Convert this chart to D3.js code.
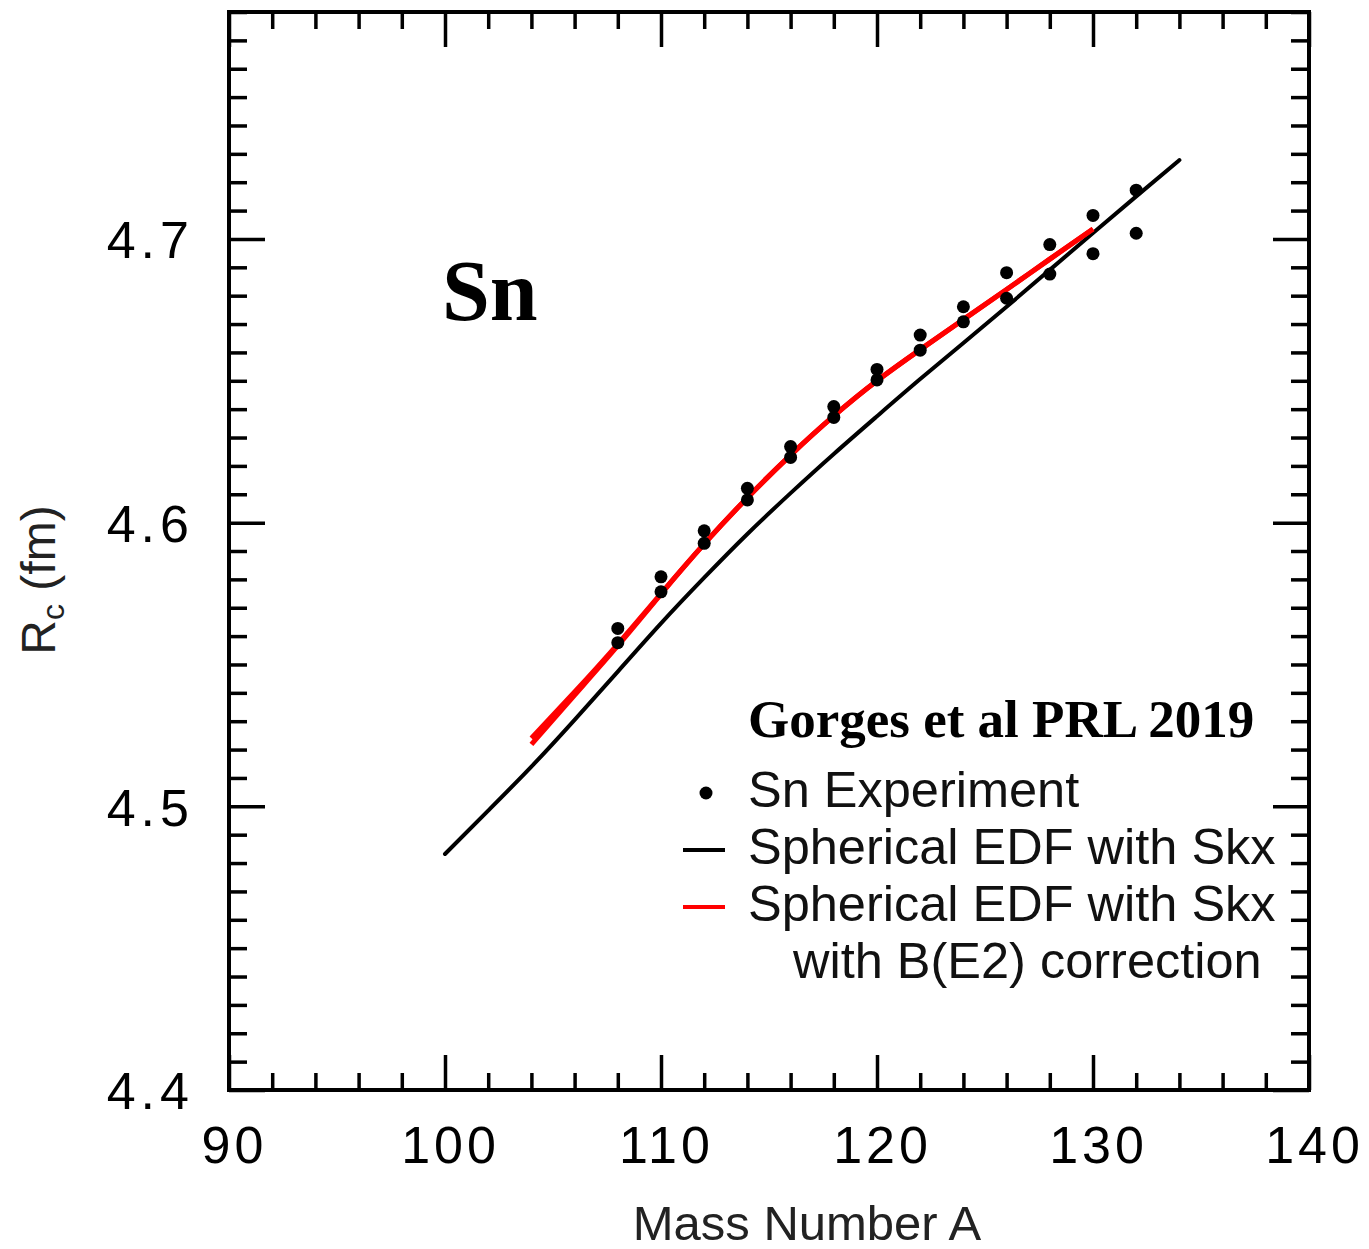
<!DOCTYPE html>
<html>
<head>
<meta charset="utf-8">
<script src="https://cdn.jsdelivr.net/npm/d3@7"></script>
<style>
  html, body { margin: 0; padding: 0; background: #fff; }
  svg { display: block; }
</style>
</head>
<body>
<svg id="chart" width="1369" height="1249"></svg>
<script>
// ---- Data ----
const xTickValues = [90, 100, 110, 120, 130, 140];
const yTickValues = [4.4, 4.5, 4.6, 4.7];

// Sn experiment: two measured values per mass number
const expMass  = [108, 110, 112, 114, 116, 118, 120, 122, 124, 126, 128, 130, 132];
const expUpper = [4.5627, 4.5809, 4.5971, 4.6121, 4.6268, 4.6409, 4.6540, 4.6661, 4.6761, 4.6881, 4.6980, 4.7083, 4.7172];
const expLower = [4.5577, 4.5756, 4.5927, 4.6080, 4.6230, 4.6371, 4.6503, 4.6608, 4.6708, 4.6791, 4.6876, 4.6948, 4.7020];

// Spherical EDF with Skx (black)
const skxMass = [100, 102, 104, 106, 108, 110, 112, 114, 116, 118, 120, 122, 124, 126, 128, 130, 132, 134];
const skxR    = [4.4832, 4.4985, 4.5140, 4.5305, 4.5475, 4.5645, 4.5806, 4.5960, 4.6104, 4.6242, 4.6375, 4.6506, 4.6633, 4.6761, 4.6891, 4.7021, 4.7150, 4.7278];

// Spherical EDF with Skx with B(E2) correction (red, two nearly overlapping strands)
const be2Mass = [104, 106, 108, 110, 112, 114, 116, 118, 120, 122, 124, 126, 128, 130];
const be2R_a  = [4.5240, 4.5403, 4.5572, 4.5750, 4.5925, 4.6088, 4.6238, 4.6376, 4.6500, 4.6610, 4.6716, 4.6822, 4.6929, 4.7035];
const be2R_b  = [4.5218, 4.5392, 4.5566, 4.5748, 4.5925, 4.6088, 4.6238, 4.6376, 4.6500, 4.6610, 4.6716, 4.6822, 4.6929, 4.7035];

const labels = {
  panel: "Sn",
  ref: "Gorges et al PRL 2019",
  exp: "Sn Experiment",
  skx: "Spherical EDF with Skx",
  be2a: "Spherical EDF with Skx",
  be2b: "with B(E2) correction",
  xTitle: "Mass Number A"
};

// ---- Drawing ----
const svg = d3.select("#chart");
const L = 229, R = 1309, T = 12, B = 1090;
const x = d3.scaleLinear().domain([90, 140]).range([L, R]);
const y = d3.scaleLinear().domain([4.4, 4.78]).range([B, T]);

const sans = "'Liberation Sans', Arial, Helvetica, sans-serif";
const serif = "'Liberation Serif', 'Times New Roman', serif";

const xMinor = d3.range(90, 140.001, 2).filter(v => !xTickValues.includes(v));
const yMinor = d3.range(0, 39).map(i => +(4.4 + i * 0.01).toFixed(2)).filter(v => !yTickValues.some(t => Math.abs(t - v) < 1e-6));

function tickAxis(axisFn, scale, vals, len, transform) {
  const g = svg.append("g").attr("transform", transform)
    .call(axisFn(scale).tickValues(vals).tickSize(len).tickFormat(""));
  g.select(".domain").remove();
  g.selectAll(".tick line").attr("stroke", "#000").attr("stroke-width", 3.5);
  return g;
}
tickAxis(d3.axisBottom, x, xTickValues, -35, `translate(0,${B})`);
tickAxis(d3.axisBottom, x, xMinor, -17, `translate(0,${B})`);
tickAxis(d3.axisTop, x, xTickValues, -35, `translate(0,${T})`);
tickAxis(d3.axisTop, x, xMinor, -17, `translate(0,${T})`);
tickAxis(d3.axisLeft, y, yTickValues, -36, `translate(${L},0)`);
tickAxis(d3.axisLeft, y, yMinor, -18, `translate(${L},0)`);
tickAxis(d3.axisRight, y, yTickValues, -36, `translate(${R},0)`);
tickAxis(d3.axisRight, y, yMinor, -18, `translate(${R},0)`);

// frame
svg.append("rect").attr("x", L).attr("y", T).attr("width", R - L).attr("height", B - T)
  .attr("fill", "none").attr("stroke", "#000").attr("stroke-width", 4);

// tick labels
const xLab = svg.append("g").attr("transform", `translate(0,${B})`)
  .call(d3.axisBottom(x).tickValues(xTickValues).tickSize(0).tickPadding(0).tickFormat(d3.format("d")));
xLab.select(".domain").remove();
xLab.selectAll("text").attr("font-family", sans).attr("font-size", 52).attr("fill", "#000")
  .attr("letter-spacing", 4).attr("dy", null).attr("y", 73).attr("dx", 5);

const yLab = svg.append("g").attr("transform", `translate(${L},0)`)
  .call(d3.axisLeft(y).tickValues(yTickValues).tickSize(0).tickPadding(0).tickFormat(d3.format(".1f")));
yLab.select(".domain").remove();
yLab.selectAll("text").attr("font-family", sans).attr("font-size", 52).attr("fill", "#000")
  .attr("letter-spacing", 5).attr("x", -35).attr("dy", "0.36em");

// axis titles
svg.append("text").attr("x", 807).attr("y", 1240).attr("text-anchor", "middle")
  .attr("font-family", sans).attr("font-size", 49).attr("fill", "#222").text(labels.xTitle);

const yt = svg.append("text").attr("transform", "translate(55,580) rotate(-90)")
  .attr("text-anchor", "middle").attr("font-family", sans).attr("font-size", 48).attr("fill", "#222");
yt.append("tspan").text("R");
yt.append("tspan").attr("font-size", 32).attr("dy", 9).text("c");
yt.append("tspan").attr("dy", -9).text(" (fm)");

// curves
const line = d3.line().x(d => x(d[0])).y(d => y(d[1])).curve(d3.curveNatural);
svg.append("path").datum(skxMass.map((m, i) => [m, skxR[i]]))
  .attr("d", line).attr("fill", "none").attr("stroke", "#000").attr("stroke-width", 4).attr("stroke-linecap", "round");
svg.append("path").datum(be2Mass.map((m, i) => [m, be2R_a[i]]))
  .attr("d", line).attr("fill", "none").attr("stroke", "#ff0000").attr("stroke-width", 5);
svg.append("path").datum(be2Mass.map((m, i) => [m, be2R_b[i]]))
  .attr("d", line).attr("fill", "none").attr("stroke", "#ff0000").attr("stroke-width", 5);

// experiment points
const pts = expMass.flatMap((m, i) => [[m, expUpper[i]], [m, expLower[i]]]);
svg.append("g").selectAll("circle").data(pts).join("circle")
  .attr("cx", d => x(d[0])).attr("cy", d => y(d[1])).attr("r", 6.5).attr("fill", "#000");

// panel label
svg.append("text").attr("x", 442).attr("y", 320).attr("font-family", serif).attr("font-weight", "bold")
  .attr("font-size", 86).attr("fill", "#000").text(labels.panel);

// legend
svg.append("text").attr("x", 748).attr("y", 737).attr("font-family", serif).attr("font-weight", "bold")
  .attr("font-size", 53).attr("fill", "#000").text(labels.ref);
svg.append("circle").attr("cx", 706).attr("cy", 793).attr("r", 6.5).attr("fill", "#000");
svg.append("line").attr("x1", 683).attr("x2", 725).attr("y1", 850).attr("y2", 850).attr("stroke", "#000").attr("stroke-width", 4);
svg.append("line").attr("x1", 683).attr("x2", 725).attr("y1", 907).attr("y2", 907).attr("stroke", "#ff0000").attr("stroke-width", 4);
const legTxt = [[labels.exp, 748, 807], [labels.skx, 748, 864], [labels.be2a, 748, 921], [labels.be2b, 793, 978]];
svg.append("g").selectAll("text").data(legTxt).join("text")
  .attr("x", d => d[1]).attr("y", d => d[2]).attr("font-family", sans).attr("font-size", 50.5).attr("fill", "#111")
  .text(d => d[0]);
</script>
</body>
</html>
